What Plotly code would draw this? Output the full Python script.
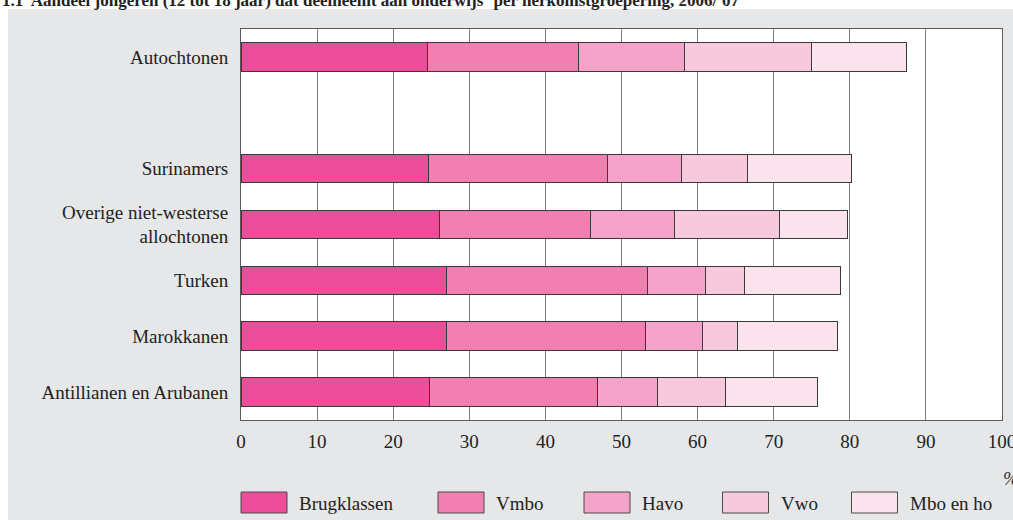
import plotly.graph_objects as go

# ---- data ----
categories = ["Autochtonen", "Surinamers", "Overige niet-westerse<br>allochtonen",
              "Turken", "Marokkanen", "Antillianen en Arubanen"]
# axis order bottom -> top, with an empty slot below Autochtonen
category_order = ["Antillianen en Arubanen", "Marokkanen", "Turken",
                  "Overige niet-westerse<br>allochtonen", "Surinamers", " ", "Autochtonen"]
series_names = ["Brugklassen", "Vmbo", "Havo", "Vwo", "Mbo en ho"]
brugklassen = [24.5, 24.6, 26.1, 27.0, 27.0, 24.8]
vmbo        = [19.9, 23.6, 19.8, 26.4, 26.1, 22.0]
havo        = [13.9,  9.7, 11.1,  7.6,  7.5,  7.9]
vwo         = [16.7,  8.7, 13.7,  5.1,  4.7,  8.9]
mbo_en_ho   = [12.4, 13.6,  9.0, 12.7, 13.1, 12.2]
series_values = [brugklassen, vmbo, havo, vwo, mbo_en_ho]
x_ticks = [0, 10, 20, 30, 40, 50, 60, 70, 80, 90, 100]
title_text = ("1.1  Aandeel jongeren (12 tot 18 jaar) dat deelneemt aan onderwijs<sup>a</sup> "
              "per herkomstgroepering, 2006/'07")

colors = ["#EE4D9A", "#F17FB0", "#F4A4C8", "#F7C9DD", "#FAE3EC"]
FONT = "Liberation Serif"
W, H = 1013, 520
ML, MR, MT, MB = 241, 11, 29, 100
PW, PH = W - ML - MR, H - MT - MB


def px(x):
    return (x - ML) / PW


def py(y):
    return (H - MB - y) / PH


fig = go.Figure()
for name, vals, col in zip(series_names, series_values, colors):
    fig.add_trace(go.Bar(
        y=categories, x=vals, name=name, orientation="h",
        marker=dict(color=col, line=dict(color="#3a3a3a", width=1)),
        showlegend=False, hoverinfo="x+y+name",
    ))

shapes = [
    dict(type="rect", xref="paper", yref="paper", x0=px(0), x1=px(W), y0=py(0), y1=py(9),
         fillcolor="white", line=dict(width=0), layer="below"),
    dict(type="rect", xref="paper", yref="paper", x0=px(0), x1=px(8), y0=py(0), y1=py(H),
         fillcolor="white", line=dict(width=0), layer="below"),
]
annotations = [
    dict(text="<b>" + title_text + "</b>", xref="paper", yref="paper", x=px(0), y=py(-0.5),
         xanchor="left", yanchor="middle", showarrow=False,
         font=dict(family=FONT, size=17, color="#222222")),
    dict(text="<i>%</i>", xref="paper", yref="paper", x=px(1001), y=py(478),
         xanchor="left", yanchor="middle", showarrow=False,
         font=dict(family=FONT, size=19, color="#333333")),
]

# custom legend
box_x = [241, 438, 584, 722.5, 851.5]
for bx, name, col in zip(box_x, series_names, colors):
    shapes.append(dict(type="rect", xref="paper", yref="paper",
                       x0=px(bx), x1=px(bx + 46), y0=py(513), y1=py(492),
                       fillcolor=col, line=dict(color="#4a4a4a", width=1)))
    annotations.append(dict(text=name, xref="paper", yref="paper", x=px(bx + 56), y=py(503),
                            xanchor="left", yanchor="middle", showarrow=False,
                            font=dict(family=FONT, size=19, color="#222222")))

fig.update_layout(
    barmode="stack", bargap=0.49,
    width=W, height=H, autosize=False,
    margin=dict(l=ML, r=MR, t=MT, b=MB, pad=0, autoexpand=False),
    paper_bgcolor="#E6E7E8", plot_bgcolor="white",
    font=dict(family=FONT, size=19, color="#222222"),
    shapes=shapes, annotations=annotations,
    xaxis=dict(range=[0, 100], tickvals=x_ticks, showgrid=True, gridcolor="#808080",
               gridwidth=1, zeroline=False, showline=True, mirror=True, automargin=False,
               linecolor="#5a5a5a", linewidth=1, ticks="", ticklabelstandoff=4,
               ticklabeloverflow="allow",
               tickfont=dict(family=FONT, size=19, color="#222222"), fixedrange=True),
    yaxis=dict(type="category", categoryorder="array", categoryarray=category_order,
               range=[-0.5, 6.5], showgrid=False, zeroline=False, showline=True, mirror=True,
               automargin=False,
               linecolor="#5a5a5a", linewidth=1, ticks="", ticklabelstandoff=8,
               tickfont=dict(family=FONT, size=19, color="#222222"), fixedrange=True),
)

fig.write_html(
    "out.html",
    config={"displayModeBar": False, "responsive": False},
    post_script="document.body.style.margin='0';document.body.style.overflow='hidden';",
)
